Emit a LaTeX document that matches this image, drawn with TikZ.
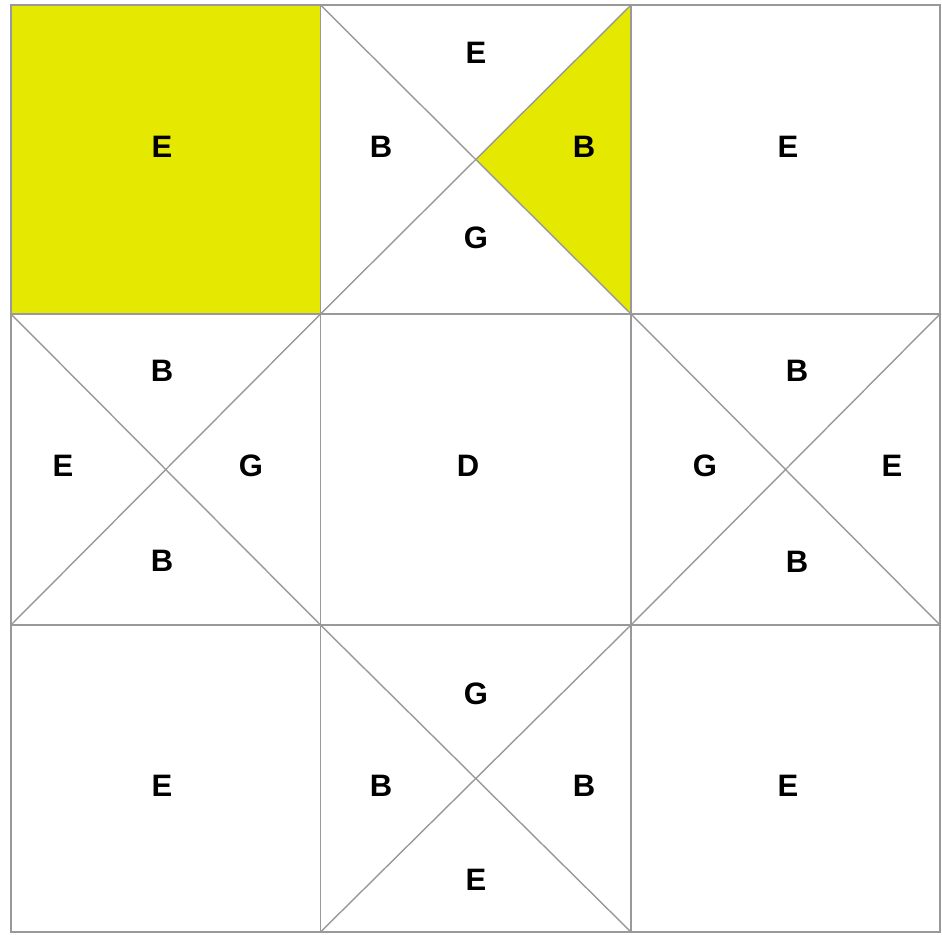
\documentclass[tikz,border=0pt]{standalone}
\usepackage{fontspec}
\setmainfont{Liberation Sans}
\definecolor{yel}{HTML}{E5E800}
\definecolor{gridc}{HTML}{999999}
\tikzset{
  lbl/.style={font=\bfseries\fontsize{31pt}{31pt}\selectfont, inner sep=0pt, anchor=center},
  gl/.style={draw=gridc, line width=1.8pt},
  dl/.style={draw=gridc, line width=1.4pt}
}
\begin{document}
\begin{tikzpicture}[x=1pt,y=-1pt]
\useasboundingbox (0,0) rectangle (942,934);
% corner coordinates
\coordinate (A0) at (11,5);   \coordinate (A1) at (320.5,5);   \coordinate (A2) at (631,5);   \coordinate (A3) at (940,5);
\coordinate (B0) at (11,314); \coordinate (B1) at (320.5,314); \coordinate (B2) at (631,314); \coordinate (B3) at (940,314);
\coordinate (C0) at (11,625); \coordinate (C1) at (320.5,625); \coordinate (C2) at (631,625); \coordinate (C3) at (940,625);
\coordinate (D0) at (11,932); \coordinate (D1) at (320.5,932); \coordinate (D2) at (631,932); \coordinate (D3) at (940,932);
\coordinate (M01) at (476,159.5);
% fills
\fill[yel] (A0) rectangle (B1);
\fill[yel] (M01) -- (A2) -- (B2) -- cycle;
% diagonals
\draw[dl] (A1) -- (B2) (A2) -- (B1);
\draw[dl] (B0) -- (C1) (B1) -- (C0);
\draw[dl] (B2) -- (C3) (B3) -- (C2);
\draw[dl] (C1) -- (D2) (C2) -- (D1);
% grid
\draw[gl] (A0) rectangle (D3);
\draw[gl] (A1) -- (D1) (A2) -- (D2) (B0) -- (B3) (C0) -- (C3);
% labels
\node[lbl] (l1) at (162,147) {E};
\node[lbl] (l2) at (476,53) {E};
\node[lbl] (l3) at (381,147) {B};
\node[lbl] (l4) at (584,147) {B};
\node[lbl] (l5) at (476,238) {G};
\node[lbl] (l6) at (788,147) {E};
\node[lbl] (l7) at (162,371) {B};
\node[lbl] (l8) at (63,466) {E};
\node[lbl] (l9) at (251,466) {G};
\node[lbl] (l10) at (162,561) {B};
\node[lbl] (l11) at (468,466) {D};
\node[lbl] (l12) at (797,371) {B};
\node[lbl] (l13) at (705,466) {G};
\node[lbl] (l14) at (892,466) {E};
\node[lbl] (l15) at (797,562) {B};
\node[lbl] (l16) at (162,786) {E};
\node[lbl] (l17) at (476,694) {G};
\node[lbl] (l18) at (381,786) {B};
\node[lbl] (l19) at (584,786) {B};
\node[lbl] (l20) at (476,880) {E};
\node[lbl] (l21) at (788,786) {E};
\end{tikzpicture}
\end{document}
